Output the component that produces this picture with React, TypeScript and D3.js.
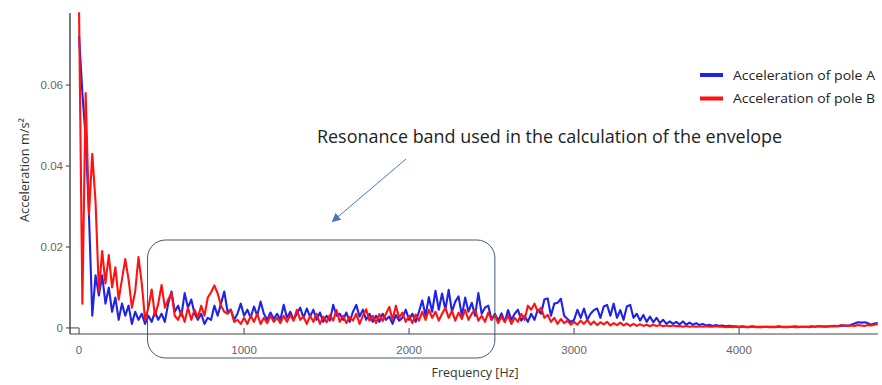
import { useRef, useEffect } from 'react'
import * as d3 from 'd3'

// frequency grid, Hz (20 Hz bins)
const freqs = d3.range(0, 4841, 20)

// Acceleration of pole A (blue), m/s²
const poleA = [
  0.072, 0.058, 0.047, 0.028, 0.003, 0.013, 0.008, 0.013, 0.006, 0.010,
  0.004, 0.0075, 0.002, 0.006, 0.003, 0.0055, 0.001, 0.004, 0.002, 0.0035,
  0.001, 0.003, 0.0015, 0.004, 0.002, 0.0035, 0.0015, 0.006, 0.009, 0.004,
  0.0055, 0.003, 0.0086, 0.005, 0.007, 0.0035, 0.002, 0.0035, 0.001, 0.0025,
  0.002, 0.0055, 0.003, 0.006, 0.009, 0.004, 0.0045, 0.002, 0.0035, 0.006,
  0.003, 0.0045, 0.0025, 0.0053, 0.003, 0.0065, 0.0035, 0.002, 0.0038, 0.0022,
  0.0035, 0.002, 0.0057, 0.0025, 0.004, 0.002, 0.0035, 0.005, 0.0025, 0.0048,
  0.0028, 0.0045, 0.002, 0.0038, 0.0015, 0.003, 0.0018, 0.0057, 0.003, 0.0035,
  0.002, 0.0038, 0.0015, 0.004, 0.0057, 0.0028, 0.0045, 0.002, 0.0035, 0.0015,
  0.003, 0.0015, 0.0035, 0.002, 0.0028, 0.001, 0.0032, 0.0018, 0.0025, 0.0045,
  0.002, 0.0035, 0.0015, 0.004, 0.0068, 0.003, 0.0076, 0.004, 0.0092, 0.0045,
  0.0085, 0.0045, 0.0094, 0.004, 0.0065, 0.0078, 0.003, 0.0075, 0.004, 0.0062,
  0.003, 0.0086, 0.0035, 0.005, 0.0055, 0.002, 0.0035, 0.0018, 0.0036, 0.0015,
  0.0044, 0.002, 0.0035, 0.0045, 0.0018, 0.003, 0.0015, 0.0035, 0.002, 0.0045,
  0.0035, 0.007, 0.0073, 0.003, 0.006, 0.0062, 0.0072, 0.003, 0.0022, 0.0015,
  0.002, 0.0045, 0.0025, 0.0048, 0.002, 0.0035, 0.0044, 0.0048, 0.0025, 0.0053,
  0.0057, 0.003, 0.006, 0.0025, 0.0044, 0.002, 0.0053, 0.0057, 0.0025, 0.0035,
  0.0018, 0.0032, 0.0015, 0.0028, 0.0014, 0.0025, 0.0012, 0.002, 0.001, 0.0016,
  0.001, 0.0015, 0.0009, 0.0016, 0.0008, 0.0013, 0.0008, 0.0012, 0.0007, 0.001,
  0.0006, 0.0008, 0.0005, 0.0007, 0.0005, 0.0006, 0.0004, 0.0005, 0.0004, 0.0004,
  0.0003, 0.0004, 0.0003, 0.0003, 0.0004, 0.0003, 0.0003, 0.0003, 0.0003, 0.0003,
  0.0003, 0.0003, 0.0004, 0.0003, 0.0003, 0.0003, 0.0003, 0.0004, 0.0003, 0.0003,
  0.0003, 0.0003, 0.0004, 0.0003, 0.0004, 0.0004, 0.0003, 0.0004, 0.0004, 0.0005,
  0.0004, 0.0005, 0.0006, 0.0005, 0.0008, 0.0011, 0.0014, 0.0013, 0.0014, 0.0012,
  0.0008, 0.0011, 0.0012,
]

// Acceleration of pole B (red), m/s²
const poleB = [
  0.078, 0.006, 0.058, 0.028, 0.043, 0.031, 0.009, 0.019, 0.011, 0.018,
  0.010, 0.015, 0.007, 0.012, 0.017, 0.012, 0.005, 0.009, 0.0175, 0.011,
  0.002, 0.005, 0.0095, 0.003, 0.006, 0.0106, 0.005, 0.007, 0.0086, 0.003,
  0.002, 0.004, 0.0015, 0.005, 0.002, 0.0045, 0.0025, 0.0055, 0.003, 0.0075,
  0.0088, 0.0105, 0.0085, 0.0055, 0.004, 0.0035, 0.0045, 0.0015, 0.002, 0.001,
  0.0025, 0.001, 0.003, 0.0015, 0.0035, 0.001, 0.0025, 0.0012, 0.003, 0.0015,
  0.0025, 0.0012, 0.003, 0.0015, 0.0032, 0.0018, 0.0045, 0.002, 0.0028, 0.001,
  0.003, 0.0015, 0.0035, 0.001, 0.0028, 0.0014, 0.0032, 0.0018, 0.0044, 0.0015,
  0.003, 0.0012, 0.0027, 0.0018, 0.0035, 0.001, 0.003, 0.0046, 0.0018, 0.003,
  0.0012, 0.0034, 0.0017, 0.0035, 0.0052, 0.002, 0.0055, 0.0025, 0.0038, 0.0015,
  0.003, 0.0012, 0.0033, 0.0018, 0.004, 0.002, 0.0045, 0.0025, 0.004, 0.0018,
  0.0035, 0.005, 0.0025, 0.0042, 0.0018, 0.0038, 0.0022, 0.0045, 0.002, 0.0035,
  0.0045, 0.0018, 0.003, 0.0015, 0.0038, 0.002, 0.0032, 0.0012, 0.0028, 0.0015,
  0.003, 0.001, 0.0025, 0.0015, 0.0035, 0.002, 0.0055, 0.0045, 0.006, 0.004,
  0.005, 0.0025, 0.0032, 0.0015, 0.0025, 0.001, 0.0022, 0.0012, 0.0018, 0.0008,
  0.0015, 0.0008, 0.0018, 0.001, 0.002, 0.0008, 0.0016, 0.0007, 0.0014, 0.0009,
  0.0015, 0.0006, 0.0012, 0.0007, 0.0013, 0.0006, 0.0011, 0.0005, 0.001, 0.0005,
  0.0009, 0.0005, 0.0008, 0.0004, 0.0008, 0.0005, 0.0007, 0.0004, 0.0006, 0.0004,
  0.0006, 0.0004, 0.0005, 0.0003, 0.0005, 0.0003, 0.0004, 0.0003, 0.0004, 0.0003,
  0.0004, 0.0003, 0.0003, 0.0004, 0.0003, 0.0003, 0.0002, 0.0003, 0.0002, 0.0003,
  0.0002, 0.0003, 0.0002, 0.0002, 0.0003, 0.0002, 0.0002, 0.0002, 0.0003, 0.0002,
  0.0002, 0.0002, 0.0003, 0.0002, 0.0002, 0.0002, 0.0003, 0.0002, 0.0002, 0.0003,
  0.0003, 0.0002, 0.0003, 0.0003, 0.0004, 0.0003, 0.0004, 0.0003, 0.0005, 0.0004,
  0.0005, 0.0007, 0.0006, 0.0005, 0.0006, 0.0005, 0.0007, 0.0006, 0.0005, 0.0007,
  0.0006, 0.0008, 0.001,
]

const xTicks = [0, 1000, 2000, 3000, 4000]
const yTicks = [0, 0.02, 0.04, 0.06]
const yTickLabels = ['0', '0.02', '0.04', '0.06']
const seriesNames = ['Acceleration of pole A', 'Acceleration of pole B']
const seriesColors = ['#1f22e8', '#ff1212']

// resonance band highlighted in the figure, Hz
const bandRange = [415, 2520]

export default function App() {
  const svgRef = useRef<SVGSVGElement>(null)

  useEffect(() => {
    const W = 882, H = 385
    const svg = d3.select(svgRef.current)
    svg.selectAll('*').remove()
    svg.attr('width', W).attr('height', H)

    const font = '"Liberation Sans", Arial, sans-serif'
    const uiFont = '"Open Sans", "Noto Sans", sans-serif'

    const x = d3.scaleLinear().domain([-55, 4842]).range([70, 878])
    const y = d3.scaleLinear().domain([-0.0015, 0.0778]).range([334, 13])

    const defs = svg.append('defs')
    defs.append('clipPath').attr('id', 'plot-clip')
      .append('rect').attr('x', 70).attr('y', 12).attr('width', 810).attr('height', 323)
    const mk = defs.append('marker').attr('id', 'arrow-head')
      .attr('viewBox', '0 0 10 10').attr('refX', 8).attr('refY', 5)
      .attr('markerWidth', 9).attr('markerHeight', 9).attr('orient', 'auto')
    mk.append('path').attr('d', 'M0,0 L10,5 L0,10 z').attr('fill', '#4f74bd')

    // Series
    const plot = svg.append('g').attr('clip-path', 'url(#plot-clip)')
    const series = [poleA, poleB]
    series.forEach((vals, si) => {
      const line = d3.line<number>()
        .x((_, i) => x(freqs[i]))
        .y(d => y(d))
      plot.append('path').datum(vals).attr('d', line)
        .attr('fill', 'none').attr('stroke', seriesColors[si])
        .attr('stroke-width', 2.1).attr('stroke-linejoin', 'round')
    })

    // Y axis
    svg.append('line').attr('x1', 70).attr('x2', 70).attr('y1', 13).attr('y2', 334)
      .attr('stroke', '#7a7a7a').attr('stroke-width', 2)
    yTicks.forEach((t, i) => {
      svg.append('line').attr('x1', 66).attr('x2', 70).attr('y1', y(t)).attr('y2', y(t))
        .attr('stroke', '#555').attr('stroke-width', 1.2)
      svg.append('text').attr('x', 63).attr('y', y(t)).attr('dy', '0.35em')
        .attr('text-anchor', 'end').attr('fill', '#666').attr('font-size', 11.5)
        .attr('font-family', font).text(yTickLabels[i])
    })
    svg.append('line').attr('x1', 70).attr('x2', x(0)).attr('y1', y(0)).attr('y2', y(0))
      .attr('stroke', '#444').attr('stroke-width', 1)

    // X axis
    svg.append('line').attr('x1', 70).attr('x2', 878).attr('y1', 334).attr('y2', 334)
      .attr('stroke', '#444').attr('stroke-width', 1.2)
    xTicks.forEach(t => {
      svg.append('line').attr('x1', x(t)).attr('x2', x(t)).attr('y1', 334).attr('y2', 328)
        .attr('stroke', '#444').attr('stroke-width', 1)
      svg.append('text').attr('x', x(t)).attr('y', 354)
        .attr('text-anchor', 'middle').attr('fill', '#666').attr('font-size', 11.5)
        .attr('font-family', font).text(t)
    })

    // Axis titles
    svg.append('text').attr('transform', 'translate(29,170) rotate(-90)')
      .attr('text-anchor', 'middle').attr('fill', '#333').attr('font-size', 12)
      .attr('font-family', uiFont).attr('textLength', 104).attr('lengthAdjust', 'spacingAndGlyphs')
      .text('Acceleration m/s²')
    svg.append('text').attr('x', 475).attr('y', 377)
      .attr('text-anchor', 'middle').attr('fill', '#333').attr('font-size', 12)
      .attr('font-family', uiFont).attr('textLength', 87).attr('lengthAdjust', 'spacingAndGlyphs')
      .text('Frequency [Hz]')

    // Legend
    seriesNames.forEach((name, i) => {
      const ly = 75 + i * 23.5
      svg.append('line').attr('x1', 700).attr('x2', 723).attr('y1', ly).attr('y2', ly)
        .attr('stroke', seriesColors[i]).attr('stroke-width', 4)
      svg.append('text').attr('x', 733).attr('y', ly).attr('dy', '0.35em')
        .attr('fill', '#222').attr('font-size', 13).attr('font-family', uiFont)
        .attr('textLength', 142).attr('lengthAdjust', 'spacingAndGlyphs')
        .text(name)
    })

    // Resonance band box
    const bx0 = x(bandRange[0]), bx1 = x(bandRange[1])
    svg.append('rect').attr('x', bx0).attr('y', 240).attr('width', bx1 - bx0).attr('height', 118)
      .attr('rx', 18).attr('ry', 18)
      .attr('fill', 'none').attr('stroke', '#41587a').attr('stroke-width', 1)

    // Annotation
    svg.append('text').attr('x', 317).attr('y', 143)
      .attr('fill', '#222').attr('font-size', 19).attr('font-family', uiFont)
      .attr('textLength', 465).attr('lengthAdjust', 'spacingAndGlyphs')
      .text('Resonance band used in the calculation of the envelope')
    svg.append('line').attr('x1', 406).attr('y1', 159).attr('x2', 333).attr('y2', 221)
      .attr('stroke', '#4f74bd').attr('stroke-width', 1)
      .attr('marker-end', 'url(#arrow-head)')
  }, [])

  return (
    <div style={{ position: 'absolute', left: 0, top: 0, background: '#fff' }}>
      <svg ref={svgRef} style={{ display: 'block' }} />
    </div>
  )
}
